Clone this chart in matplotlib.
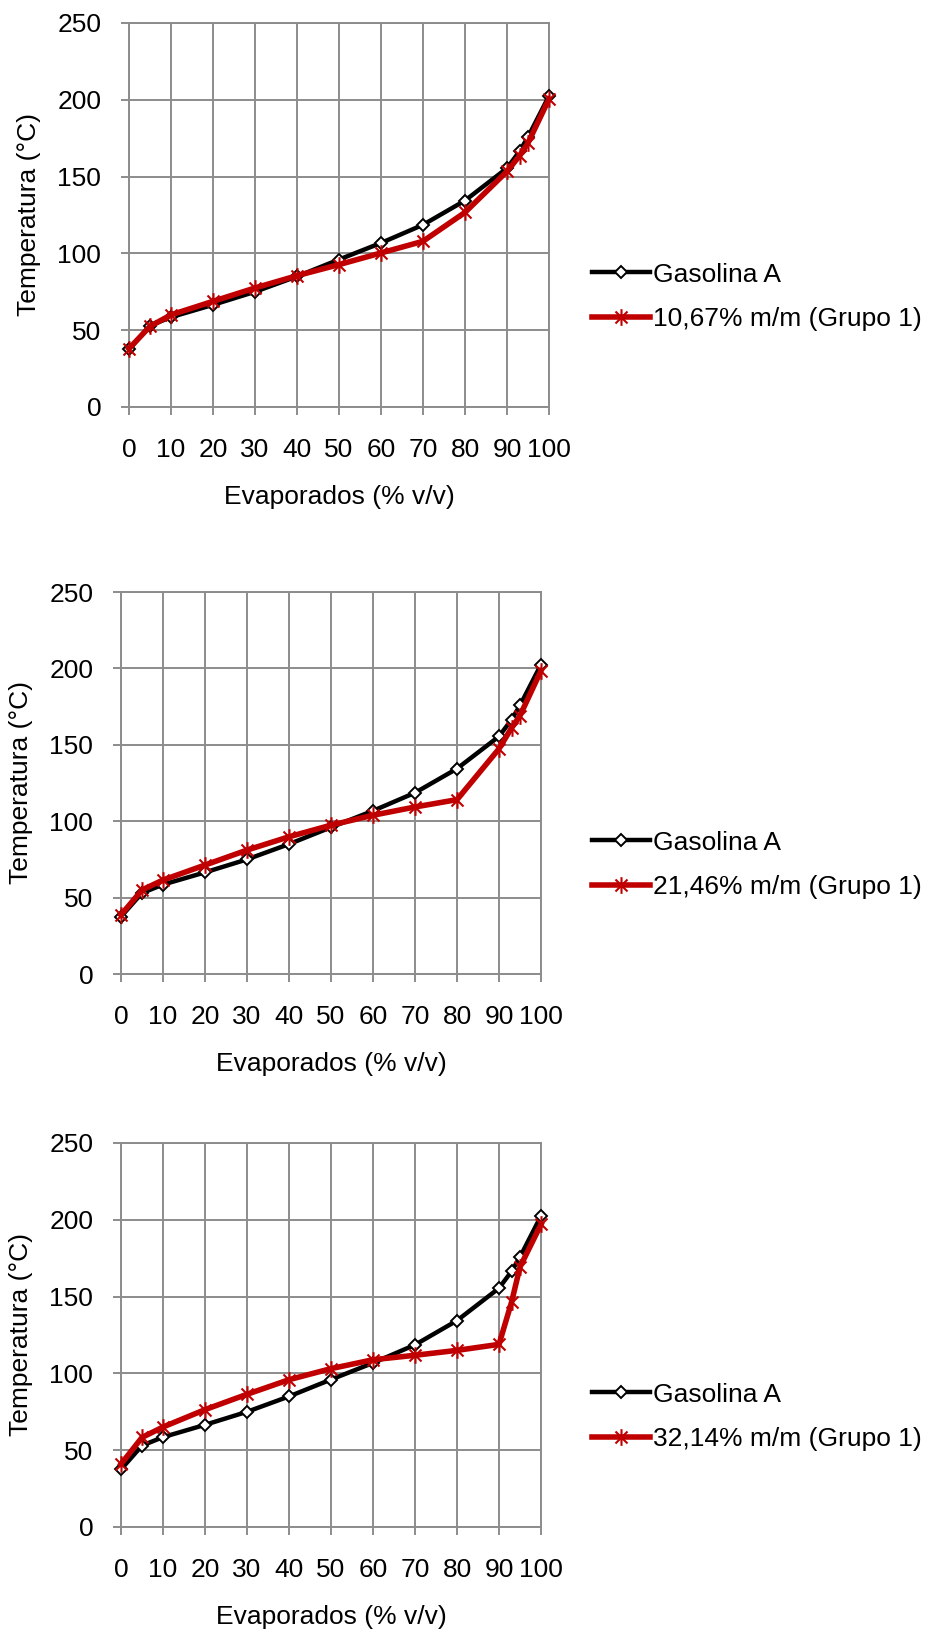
import numpy as np
from matplotlib import pyplot as plt
from matplotlib.path import Path

plt.rcParams['font.family'] = ['Liberation Sans', 'DejaVu Sans']

# % evaporados
x_evap = [0, 5, 10, 20, 30, 40, 50, 60, 70, 80, 90, 93, 95, 100]

# temperatura (°C) - gasolina A (igual nos tres graficos)
gasolina_a = [37.5, 53, 58.5, 66.5, 75, 85, 96, 106.8, 118.6, 134.4, 155.5, 166.5, 175.8, 202.5]

# misturas (Grupo 1)
mist_1 = [38, 52.5, 60, 68.8, 77.5, 85.5, 92.7, 100.3, 107.9, 126.7, 153.4, 163.6, 171.9, 200.5]
mist_2 = [38.7, 55, 61.5, 71.3, 81.1, 89.8, 97.4, 103.9, 109.3, 114.1, 147.4, 161.1, 169.1, 198.5]
mist_3 = [41, 58.3, 65.1, 76.4, 86.4, 95.9, 103.1, 108.9, 111.8, 115, 118.9, 146.5, 169.3, 197]

labels_mist = ['10,67% m/m (Grupo 1)', '21,46% m/m (Grupo 1)', '32,14% m/m (Grupo 1)']
x_ticks = list(range(0, 101, 10))
y_ticks = list(range(0, 251, 50))

W, H = 926, 1632
# (left, right, top, bottom) em pixels e posicao da legenda
paineis = [
    ((129, 549, 23, 407), 297),
    ((121, 541, 592, 974), 865),
    ((121, 541, 1143, 1527), 1417),
]

# marcador estrela do Excel (x com traco vertical)
star = Path([(0, -1), (0, 1), (-0.72, -0.72), (0.72, 0.72), (-0.72, 0.72), (0.72, -0.72)],
            [Path.MOVETO, Path.LINETO, Path.MOVETO, Path.LINETO, Path.MOVETO, Path.LINETO])

grid_col = '#8c8c8c'
fs = 19

fig = plt.figure(figsize=(W / 100, H / 100), dpi=100)

for (pos, leg_y), mist, lab in zip(paineis, [mist_1, mist_2, mist_3], labels_mist):
    l, r, t, b = pos
    ax = fig.add_axes([l / W, (H - b) / H, (r - l) / W, (b - t) / H])
    ax.plot(x_evap, gasolina_a, color='black', lw=3.2, marker='D', ms=6.5, mfc='white',
            mec='black', mew=1.4, label='Gasolina A', zorder=3, clip_on=False)
    ax.plot(x_evap, mist, color='#c00000', lw=4, marker=star, ms=12, mec='#c00000',
            mew=1.5, label=lab, zorder=4, clip_on=False)
    ax.set_xlim(0, 100)
    ax.set_ylim(0, 250)
    ax.set_xticks(x_ticks)
    ax.set_yticks(y_ticks)
    ax.grid(True, color=grid_col, lw=1.4)
    ax.set_axisbelow(True)
    for s in ax.spines.values():
        s.set_color(grid_col)
        s.set_linewidth(1.4)
    ax.tick_params(axis='both', length=6, width=1.4, color=grid_col, labelsize=fs, pad=14)
    ax.tick_params(axis='x', pad=16)
    ax.set_xlabel('Evaporados (% v/v)', fontsize=fs, labelpad=17)
    ax.set_ylabel('Temperatura (°C)', fontsize=fs, labelpad=12)
    ax.legend(loc='center left', bbox_to_anchor=(592 / W, (H - leg_y) / H),
              bbox_transform=fig.transFigure, frameon=False, fontsize=fs,
              handlelength=2.2, handletextpad=0.12, labelspacing=0.78, borderpad=0,
              borderaxespad=0)

fig.savefig('out.png', dpi=100)
